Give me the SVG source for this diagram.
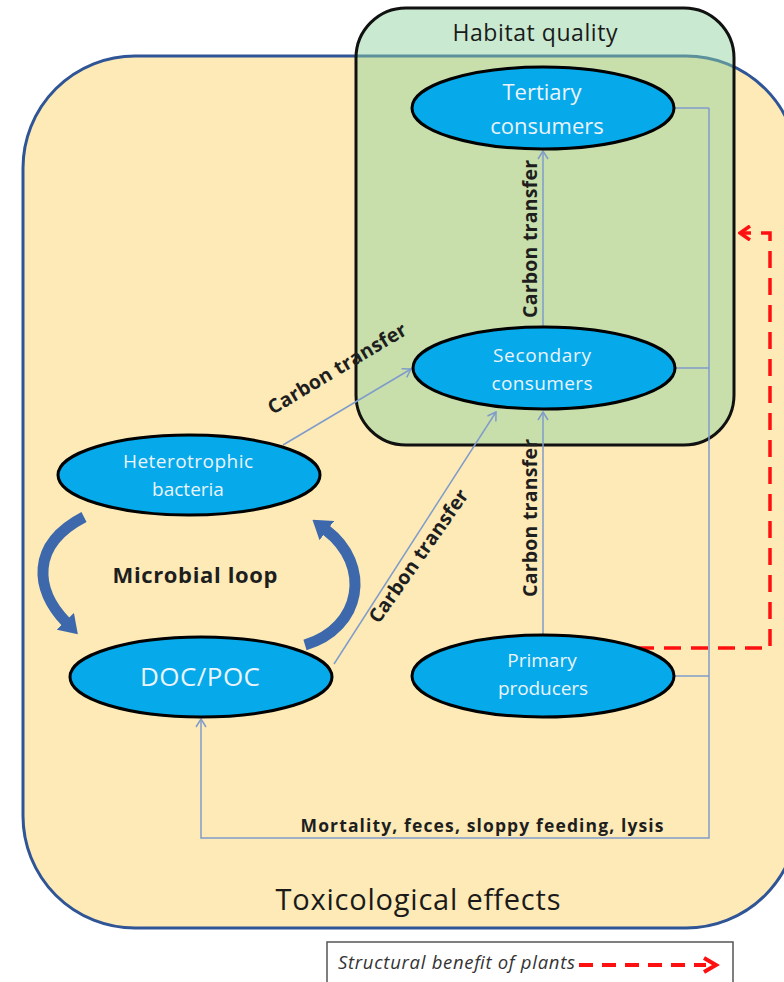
<svg xmlns="http://www.w3.org/2000/svg" width="784" height="982" viewBox="0 0 784 982">
<defs>
<style>
.ell{fill:#06A9EA;stroke:#000;stroke-width:3}
.et{font-family:"Open Sans","Liberation Sans",sans-serif;fill:#EAF4FA;text-anchor:middle}
.lab{font-family:"Open Sans","Liberation Sans",sans-serif;font-weight:bold;fill:#1e1e1e;text-anchor:middle}
.con{fill:none;stroke:#7F9CCB;stroke-width:1.5}
.red{fill:none;stroke:#FF1010;stroke-width:3.5;stroke-dasharray:17 10}
.loop{fill:none;stroke:#3D68AC;stroke-width:11}
</style>
<marker id="ah" viewBox="0 0 10 12" refX="9" refY="6" markerWidth="10" markerHeight="12" markerUnits="userSpaceOnUse" orient="auto">
<path d="M1,1 L9,6 L1,11" fill="none" stroke="#7F9CCB" stroke-width="1.5"/>
</marker>
<marker id="redh" viewBox="0 0 14 16" refX="12" refY="8" markerWidth="14" markerHeight="16" markerUnits="userSpaceOnUse" orient="auto">
<path d="M2,1 L12,8 L2,15" fill="none" stroke="#FF1010" stroke-width="3.5"/>
</marker>
<marker id="bigh" viewBox="0 0 18 24" refX="1" refY="12" markerWidth="18" markerHeight="24" markerUnits="userSpaceOnUse" orient="auto">
<path d="M0,0 L18,12 L0,24 z" fill="#3D68AC"/>
</marker>
</defs>
<rect width="784" height="982" fill="#fff"/>
<g id="toxicological-effects">
<rect x="23" y="56" width="775" height="872" rx="112" ry="112" fill="#FDEAB6" stroke="#2F5597" stroke-width="3"/>
<text x="418" y="910" font-family="'Open Sans','Liberation Sans',sans-serif" font-size="29" fill="#1a1a1a" text-anchor="middle" textLength="285">Toxicological effects</text>
</g>
<g id="habitat-quality">
<rect x="356" y="8" width="378" height="437" rx="50" ry="50" fill="#8ED09E" fill-opacity="0.48" stroke="#111" stroke-width="3"/>
<text x="535" y="41" font-family="'Open Sans','Liberation Sans',sans-serif" font-size="23" fill="#1a1a1a" text-anchor="middle" textLength="165">Habitat quality</text>
</g>
<g id="connectors">
<path class="con" d="M543 635 L543 412" marker-end="url(#ah)"/>
<path class="con" d="M543 327 L543 151" marker-end="url(#ah)"/>
<path class="con" d="M283 445 L411 369" marker-end="url(#ah)"/>
<path class="con" d="M334 664 L496 412" marker-end="url(#ah)"/>
<path class="con" d="M675 108 H709 M675 368 H709 M675 676 H709"/>
<path class="con" d="M709 108 V838 H201 V719" marker-end="url(#ah)"/>
<path class="red" d="M637 648 H770 V233 H740" marker-end="url(#redh)"/>
<path class="loop" d="M84 517 C30 545 35 590 66 622" marker-end="url(#bigh)"/>
<path class="loop" d="M305 645 C362 628 372 565 326 530" marker-end="url(#bigh)"/>
<text class="lab" font-size="19.5" textLength="158" transform="translate(537,239) rotate(-90)">Carbon transfer</text>
<text class="lab" font-size="19.5" textLength="158" transform="translate(537,518) rotate(-90)">Carbon transfer</text>
<text class="lab" font-size="19.5" textLength="158" transform="translate(338,370) rotate(-31)" y="5">Carbon transfer</text>
<text class="lab" font-size="19.5" textLength="158" transform="translate(420,557) rotate(-55)" y="5">Carbon transfer</text>
<text class="lab" x="482" y="832" font-size="17.5" textLength="363">Mortality, feces, sloppy feeding, lysis</text>
<text class="lab" x="195" y="583" font-size="22" textLength="165">Microbial loop</text>
</g>
<g id="tertiary-consumers">
<ellipse class="ell" cx="543" cy="108" rx="131" ry="41"/>
<text class="et" x="542" y="100" font-size="22">Tertiary</text>
<text class="et" x="547" y="134" font-size="22">consumers</text>
</g>
<g id="secondary-consumers">
<ellipse class="ell" cx="544" cy="368" rx="131" ry="41"/>
<text class="et" x="542" y="362" font-size="19" textLength="98">Secondary</text>
<text class="et" x="542" y="390" font-size="19" textLength="101">consumers</text>
</g>
<g id="heterotrophic-bacteria">
<ellipse class="ell" cx="189" cy="475" rx="131" ry="40"/>
<text class="et" x="188" y="468" font-size="19" textLength="130">Heterotrophic</text>
<text class="et" x="188" y="496" font-size="19">bacteria</text>
</g>
<g id="doc-poc">
<ellipse class="ell" cx="201" cy="677" rx="131" ry="40"/>
<text class="et" x="200" y="686" font-size="26" textLength="120">DOC/POC</text>
</g>
<g id="primary-producers">
<ellipse class="ell" cx="543" cy="676" rx="131" ry="41"/>
<text class="et" x="542" y="667" font-size="19">Primary</text>
<text class="et" x="543" y="695" font-size="19" textLength="90">producers</text>
</g>
<g id="legend">
<rect x="327" y="942" width="406" height="50" fill="#fff" stroke="#555" stroke-width="1.5"/>
<text x="338" y="969" font-family="'Open Sans','Liberation Sans',sans-serif" font-style="italic" font-size="18.5" fill="#333" textLength="237">Structural benefit of plants</text>
<path d="M579 965 H706" fill="none" stroke="#FF1010" stroke-width="4" stroke-dasharray="14 9"/>
<path d="M704 958 L716 965 L704 972" fill="none" stroke="#FF1010" stroke-width="4"/>
</g>
</svg>
